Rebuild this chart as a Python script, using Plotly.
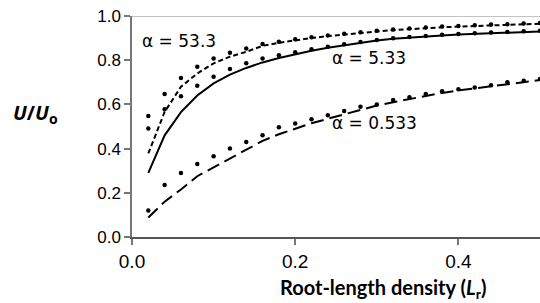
import plotly.graph_objects as go

# Root-length density values
lr = [0.02, 0.04, 0.06, 0.08, 0.10, 0.12, 0.14, 0.16, 0.18, 0.20, 0.22, 0.24, 0.26,
      0.28, 0.30, 0.32, 0.34, 0.36, 0.38, 0.40, 0.42, 0.44, 0.46, 0.48, 0.50]

# alpha = 53.3 : line (short dash) and dots
a533_line = [0.378, 0.566, 0.68, 0.74, 0.786, 0.816, 0.838, 0.865, 0.879, 0.891, 0.90, 0.909, 0.917,
             0.924, 0.93, 0.936, 0.941, 0.945, 0.949, 0.952, 0.955, 0.958, 0.96, 0.963, 0.965]
a533_dots = [0.548, 0.647, 0.72, 0.77, 0.808, 0.834, 0.853, 0.873, 0.884, 0.895, 0.904, 0.912, 0.92,
             0.927, 0.933, 0.939, 0.944, 0.948, 0.952, 0.955, 0.958, 0.961, 0.963, 0.966, 0.968]

# alpha = 5.33 : solid line and dots
a5_line = [0.29, 0.46, 0.565, 0.64, 0.695, 0.735, 0.765, 0.79, 0.81, 0.828, 0.843, 0.856, 0.868,
           0.879, 0.889, 0.897, 0.903, 0.908, 0.912, 0.916, 0.919, 0.922, 0.925, 0.928, 0.93]
a5_dots = [0.491, 0.578, 0.637, 0.684, 0.725, 0.76, 0.786, 0.808, 0.822, 0.836, 0.849, 0.861, 0.872,
           0.882, 0.891, 0.899, 0.905, 0.91, 0.915, 0.919, 0.922, 0.925, 0.928, 0.931, 0.933]

# alpha = 0.533 : long-dash line and dots
a05_line = [0.088, 0.16, 0.215, 0.275, 0.315, 0.355, 0.395, 0.435, 0.465, 0.49, 0.515, 0.535, 0.555,
            0.575, 0.595, 0.61, 0.625, 0.64, 0.652, 0.663, 0.673, 0.683, 0.693, 0.70, 0.71]
a05_dots = [0.12, 0.235, 0.29, 0.33, 0.365, 0.40, 0.43, 0.46, 0.497, 0.514, 0.533, 0.551, 0.57,
            0.589, 0.60, 0.62, 0.632, 0.647, 0.66, 0.669, 0.677, 0.687, 0.70, 0.707, 0.715]

labels = ["α = 53.3", "α = 5.33", "α = 0.533"]
label_x = [0.01, 0.243, 0.243]
label_y = [0.885, 0.81, 0.515]

y_ticks = [0.0, 0.2, 0.4, 0.6, 0.8, 1.0]
x_ticks = [0.0, 0.2, 0.4]

fig = go.Figure()
for ys, dash in [(a533_line, "5px,3px"), (a5_line, "solid"), (a05_line, "13px,6px")]:
    fig.add_trace(go.Scatter(x=lr, y=ys, mode="lines",
                             line=dict(color="black", width=2, dash=dash),
                             showlegend=False, hoverinfo="skip"))
for ys in [a533_dots, a5_dots, a05_dots]:
    fig.add_trace(go.Scatter(x=lr, y=ys, mode="markers",
                             marker=dict(color="black", size=4.5),
                             showlegend=False, hoverinfo="skip"))

for t, xx, yy in zip(labels, label_x, label_y):
    fig.add_annotation(x=xx, y=yy, text=t, showarrow=False, xanchor="left", yanchor="middle",
                       font=dict(family="DejaVu Sans", size=17, color="black"))

# y-axis title (horizontal)
fig.add_annotation(xref="paper", yref="paper", x=-0.297, y=0.56,
                   text="<b><i>U</i>/<i>U</i><sub>o</sub></b>", showarrow=False,
                   xanchor="left", yanchor="middle",
                   font=dict(family="Open Sans", size=20, color="black"))

# x-axis title (offset to the right as in the original)
fig.add_annotation(xref="paper", yref="paper", x=0.615, y=-0.235,
                   text="<b>Root-length density (<i>L</i><sub>r</sub>)</b>", showarrow=False,
                   xanchor="center", yanchor="middle",
                   font=dict(family="Lato", size=20, color="black"))

# top border line
fig.add_shape(type="line", xref="paper", yref="y", x0=0, x1=1, y0=1, y1=1,
              line=dict(color="#b0b0b0", width=1.5))

fig.update_layout(
    width=540, height=303,
    margin=dict(l=132, r=0, t=16, b=66),
    paper_bgcolor="white", plot_bgcolor="white",
    xaxis=dict(range=[0, 0.5], tickvals=x_ticks, ticktext=["0.0", "0.2", "0.4"],
               showgrid=False, zeroline=False, showline=True, linecolor="#555555", linewidth=1.5,
               ticks="outside", ticklen=6, tickcolor="#777777", tickwidth=1.5,
               tickfont=dict(family="Liberation Sans", size=19, color="black")),
    yaxis=dict(range=[0, 1], tickvals=y_ticks, ticktext=["0.0", "0.2", "0.4", "0.6", "0.8", "1.0"],
               showgrid=False, zeroline=False, showline=True, linecolor="#777777", linewidth=1.5,
               ticks="outside", ticklen=6, tickcolor="#777777", tickwidth=1.5,
               tickfont=dict(family="Liberation Sans", size=17, color="black")),
)
fig.write_html("out.html", config={"displayModeBar": False})

with open("out.html", "r", encoding="utf-8") as f:
    html = f.read()
html = html.replace("<head>", "<head><style>html,body{margin:0;padding:0;overflow:hidden}</style>", 1)
with open("out.html", "w", encoding="utf-8") as f:
    f.write(html)
